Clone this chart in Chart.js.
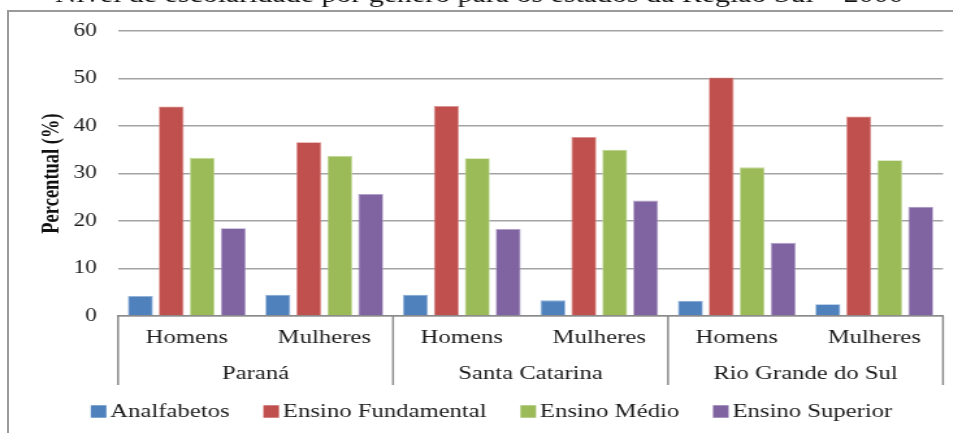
<!DOCTYPE html>
<html>
<head>
<meta charset="utf-8">
<script src="https://cdn.jsdelivr.net/npm/chart.js@4"></script>
<style>
  html, body { margin: 0; padding: 0; background: #fff; overflow: hidden; }
  #frame {
    position: absolute; left: 7px; top: 10px; width: 970px; height: 450px;
    border: 2px solid #9a9a9a; box-sizing: border-box;
  }
  #c { position: absolute; left: 0; top: 0; transform: scaleX(1.3); transform-origin: 0 0; }
</style>
</head>
<body>
<div id="frame"></div>
<canvas id="c" width="733" height="433"></canvas>
<script>
// Escolaridade por gênero, estados da Região Sul (%)
const categories = ['Homens', 'Mulheres', 'Homens', 'Mulheres', 'Homens', 'Mulheres'];
const states = ['Paraná', 'Santa Catarina', 'Rio Grande do Sul'];
const seriesNames = ['Analfabetos', 'Ensino Fundamental', 'Ensino Médio', 'Ensino Superior'];
const analfabetos = [4.2, 4.5, 4.5, 3.3, 3.2, 2.5];
const ensinoFundamental = [44.1, 36.6, 44.2, 37.7, 50.2, 42.0];
const ensinoMedio = [33.3, 33.7, 33.2, 35.0, 31.3, 32.8];
const ensinoSuperior = [18.5, 25.7, 18.3, 24.3, 15.4, 23.0];
const yTicks = [0, 10, 20, 30, 40, 50, 60];
const captionText = 'Nível de escolaridade por gênero para os estados da Região Sul – 2000';

const colors = ['#4F81BD', '#C0504D', '#9BBB59', '#8064A2'];
const edgeColors = ['#8fb0d8', '#dc8e8c', '#c3d99c', '#b19fc8'];
const serif = '"Liberation Serif", "Times New Roman", serif';
const textColor = '#1c1c1c';

Chart.defaults.font.family = serif;
Chart.defaults.color = textColor;

const values = [analfabetos, ensinoFundamental, ensinoMedio, ensinoSuperior];
const datasets = seriesNames.map((name, i) => ({
  label: name,
  data: values[i],
  backgroundColor: colors[i],
  borderColor: edgeColors[i],
  borderWidth: 0.8,
  categoryPercentage: 0.9,
  barPercentage: 0.81
}));

// Group labels, separators, legend and caption line
const decorations = {
  id: 'decorations',
  afterDraw(chart) {
    const ctx = chart.ctx;
    const x = chart.scales.x;
    const area = chart.chartArea;
    const half = (x.getPixelForValue(1) - x.getPixelForValue(0)) / 2;
    ctx.save();

    // vertical separators between states
    ctx.strokeStyle = '#8a8a8a';
    ctx.lineWidth = 1.5;
    const edges = [];
    for (let s = 0; s < states.length; s++) edges.push(x.getPixelForValue(s * 2) - half);
    edges.push(x.getPixelForValue(categories.length - 1) + half);
    edges.forEach(px => {
      ctx.beginPath();
      ctx.moveTo(px, area.bottom);
      ctx.lineTo(px, 385);
      ctx.stroke();
    });

    // state names
    ctx.fillStyle = textColor;
    ctx.font = '19px ' + serif;
    ctx.textAlign = 'center';
    ctx.textBaseline = 'middle';
    states.forEach((st, s) => {
      const cx = (x.getPixelForValue(s * 2) + x.getPixelForValue(s * 2 + 1)) / 2;
      ctx.fillText(st, cx, 374);
    });

    // legend
    let lx = 69.8;
    const ly = 411.5;
    ctx.textAlign = 'left';
    chart.data.datasets.forEach(ds => {
      ctx.fillStyle = ds.backgroundColor;
      ctx.fillRect(lx, ly - 6.2, 12, 12.4);
      lx += 15;
      ctx.fillStyle = textColor;
      ctx.fillText(ds.label, lx, ly + 0.5);
      lx += ctx.measureText(ds.label).width + 26;
    });

    // caption line above the frame
    ctx.font = '23px ' + serif;
    ctx.textAlign = 'right';
    ctx.textBaseline = 'alphabetic';
    ctx.fillStyle = '#111';
    ctx.fillText(captionText, 695, 1.5);

    ctx.restore();
  }
};

new Chart(document.getElementById('c'), {
  type: 'bar',
  data: { labels: categories, datasets },
  options: {
    responsive: false,
    animation: false,
    events: [],
    layout: { padding: { top: 31, right: 7.6, bottom: 0, left: 0 } },
    plugins: { legend: { display: false }, tooltip: { enabled: false } },
    scales: {
      x: {
        grid: { display: false, drawTicks: false },
        border: { display: true, color: '#8a8a8a', width: 1.5 },
        ticks: { font: { size: 19 }, color: textColor, padding: 10.6, maxRotation: 0, autoSkip: false },
        afterFit(scale) { scale.height = 117; }
      },
      y: {
        min: yTicks[0],
        max: yTicks[yTicks.length - 1],
        afterBuildTicks(scale) { scale.ticks = yTicks.map(v => ({ value: v })); },
        grid: { color: '#a3a3a3', lineWidth: 1.5, drawTicks: false },
        border: { display: false },
        ticks: { font: { size: 18 }, color: textColor, padding: 16.2 },
        title: {
          display: true,
          text: 'Percentual (%)',
          font: { size: 18.5, weight: 'bold' },
          color: '#111',
          padding: { top: 28.9, bottom: 0 }
        },
        afterFit(scale) { scale.width = 90.8; }
      }
    }
  },
  plugins: [decorations]
});
</script>
</body>
</html>
